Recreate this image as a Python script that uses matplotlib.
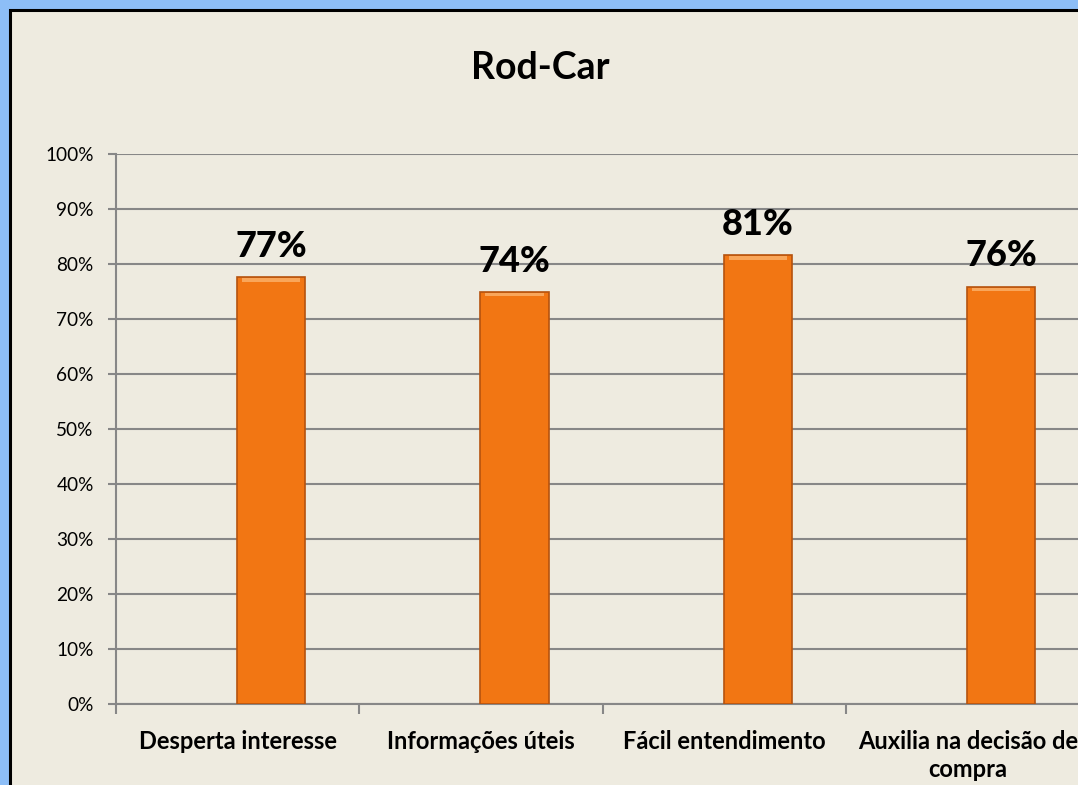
import numpy as np
import matplotlib.pyplot as plt
import matplotlib as mpl
from matplotlib.patches import Rectangle
from matplotlib.ticker import PercentFormatter

mpl.rcParams['font.family'] = ['Lato', 'DejaVu Sans']

categorias = ["Desperta interesse", "Informações úteis", "Fácil entendimento",
              "Auxilia na decisão de\ncompra"]
valores = [0.776, 0.749, 0.816, 0.759]
rotulos = ["77%", "74%", "81%", "76%"]

fig = plt.figure(figsize=(10.78, 7.85), dpi=100)
fig.patch.set_facecolor('#8DBEF7')

# painel bege com borda preta (sai pela direita e por baixo)
painel = Rectangle((10 / 1078, -0.05), 1.2, (785 - 10) / 785 + 0.05,
                   transform=fig.transFigure, facecolor='#EEEBE0',
                   edgecolor='black', linewidth=2.2, zorder=-5)
fig.patches.append(painel)

ax = fig.add_axes([116 / 1078, 81 / 785, 973.6 / 1078, 550 / 785])
ax.set_facecolor('none')
ax.set_zorder(2)

x = np.arange(len(categorias))
xb = x + 0.137   # barras deslocadas dentro da categoria (como no Excel)
ax.bar(xb, valores, width=0.28, color='#F27613', edgecolor='#B5530F',
       linewidth=1.2, zorder=3)
# leve brilho no topo da barra
ax.bar(xb, [0.006] * len(x), bottom=np.array(valores) - 0.008, width=0.24,
       color='#F9A65A', linewidth=0, zorder=4)

for xi, v, r in zip(xb, valores, rotulos):
    ax.text(xi, v + 0.056, r, ha='center', va='center', fontsize=26,
            fontweight='black', color='black')

ax.set_xlim(-0.5, 3.5)
ax.set_ylim(0, 1)
ax.set_yticks(np.arange(0, 1.01, 0.1))
ax.yaxis.set_major_formatter(PercentFormatter(1.0, decimals=0))
ax.grid(axis='y', color='#878787', linewidth=1.5, zorder=1)
ax.set_axisbelow(True)

ax.set_xticks(x)
ax.set_xticklabels(categorias, fontsize=17, fontweight='bold',
                   multialignment='center', linespacing=1.25)
ax.tick_params(axis='x', which='major', length=0, pad=19)
ax.set_xticks(np.arange(-0.5, 3.6, 1), minor=True)
ax.tick_params(axis='x', which='minor', length=7, color='#878787', width=1.5)
ax.tick_params(axis='y', length=6, color='#878787', width=1.5,
               labelsize=13.7, pad=10)

for lado in ['top', 'right']:
    ax.spines[lado].set_visible(False)
for lado in ['left', 'bottom']:
    ax.spines[lado].set_color('#878787')
    ax.spines[lado].set_linewidth(1.5)

fig.text(540 / 1078, 1 - 68 / 785, "Rod-Car", ha='center', va='center',
         fontsize=27, fontweight='bold')

fig.savefig("out.png", dpi=100, facecolor=fig.get_facecolor())
